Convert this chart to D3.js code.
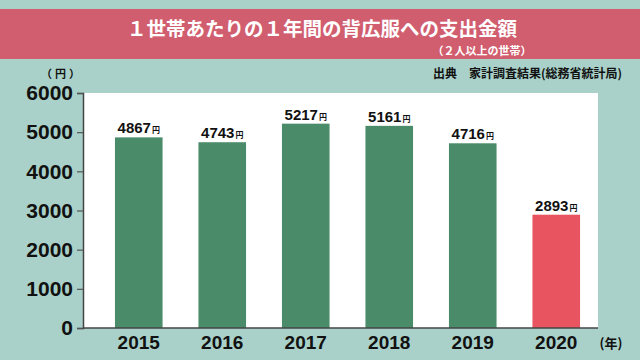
<!DOCTYPE html>
<html><head><meta charset="utf-8">
<script src="https://cdn.jsdelivr.net/npm/d3@7"></script>
<style>
html,body{margin:0;padding:0;background:#a9d1c9;}
svg{display:block;}
</style></head>
<body>
<svg id="chart" width="640" height="360"></svg>
<script>
const years = ["2015","2016","2017","2018","2019","2020"];
const amounts = [4867, 4743, 5217, 5161, 4716, 2893];
const barColors = ["#4a8b6a","#4a8b6a","#4a8b6a","#4a8b6a","#4a8b6a","#e8545f"];
const yTicks = [0,1000,2000,3000,4000,5000,6000];
const titleText = "１世帯あたりの１年間の背広服への支出金額";
const subtitleText = "（２人以上の世帯）";
const sourceText = "出典　家計調査結果(総務省統計局)";
const yUnit = "（円）";
const xUnit = "(年)";
const valueUnit = "円";

const svg = d3.select("#chart");
const W = 640, H = 360;
const jp = "'Noto Sans CJK JP', sans-serif";
const num = "'Liberation Sans', Arial, sans-serif";

svg.append("rect").attr("width", W).attr("height", H).attr("fill", "#a9d1c9");
// banner
svg.append("rect").attr("x", 0).attr("y", 9).attr("width", W).attr("height", 50).attr("fill", "#d15e6f");
svg.append("text").attr("x", 322).attr("y", 36).attr("text-anchor", "middle")
  .attr("font-family", jp).attr("font-weight", 700).attr("font-size", 19.5).attr("fill", "#fff")
  .text(titleText);
svg.append("text").attr("x", 482).attr("y", 54.5).attr("text-anchor", "middle")
  .attr("font-family", jp).attr("font-weight", 700).attr("font-size", 11).attr("fill", "#fff")
  .text(subtitleText);

svg.append("text").attr("x", 622).attr("y", 78).attr("text-anchor", "end")
  .attr("font-family", jp).attr("font-weight", 700).attr("font-size", 12).attr("fill", "#111")
  .text(sourceText);

const pLeft = 83, pRight = 598, pTop = 93, pBottom = 328;
svg.append("rect").attr("x", pLeft).attr("y", pTop).attr("width", pRight - pLeft).attr("height", pBottom - pTop).attr("fill", "#fff");

const x = d3.scaleBand().domain(years).range([97, 598]).paddingInner(0.43).paddingOuter(0.215);
const y = d3.scaleLinear().domain([0, 6000]).range([pBottom, pTop]);

svg.append("g").selectAll("rect").data(years).join("rect")
  .attr("x", d => x(d)).attr("width", x.bandwidth())
  .attr("y", (d, i) => y(amounts[i])).attr("height", (d, i) => y(0) - y(amounts[i]))
  .attr("fill", (d, i) => barColors[i]);

// value labels
const lbl = svg.append("g").selectAll("text").data(years).join("text")
  .attr("x", d => x(d) + x.bandwidth() / 2)
  .attr("y", (d, i) => y(amounts[i]) - 4)
  .attr("text-anchor", "middle")
  .attr("font-family", num).attr("font-weight", 700).attr("font-size", 15).attr("fill", "#111");
lbl.append("tspan").text((d, i) => amounts[i]);
lbl.append("tspan").attr("font-family", jp).attr("font-size", 8).attr("dx", 1).text(valueUnit);

// y axis
const yAxis = d3.axisLeft(y).tickValues(yTicks).tickSize(6).tickPadding(4).tickFormat(d3.format("d"));
const gy = svg.append("g").attr("transform", `translate(${pLeft},0)`).call(yAxis);
gy.select(".domain").attr("stroke", "#444").attr("stroke-width", 1.5);
gy.selectAll(".tick line").attr("stroke", "#555").attr("stroke-width", 1.2);
gy.selectAll(".tick text").attr("font-family", num).attr("font-weight", 700).attr("font-size", 21).attr("fill", "#111");

// x axis
const xAxis = d3.axisBottom(x).tickSize(0).tickPadding(8);
const gx = svg.append("g").attr("transform", `translate(0,${pBottom})`).call(xAxis);
gx.select(".domain").attr("d", `M${pLeft},0H${pRight}`).attr("stroke", "#444").attr("stroke-width", 1.5);
gx.selectAll(".tick text").attr("font-family", num).attr("font-weight", 700).attr("font-size", 19).attr("fill", "#111");

svg.append("text").attr("x", 611).attr("y", 348).attr("text-anchor", "middle")
  .attr("font-family", jp).attr("font-weight", 700).attr("font-size", 13).attr("fill", "#111").text(xUnit);
svg.append("text").attr("x", 62).attr("y", 78).attr("text-anchor", "middle")
  .attr("font-family", jp).attr("font-weight", 700).attr("font-size", 11).attr("fill", "#111")
  .attr("letter-spacing", 3).text(yUnit);
</script>
</body></html>
